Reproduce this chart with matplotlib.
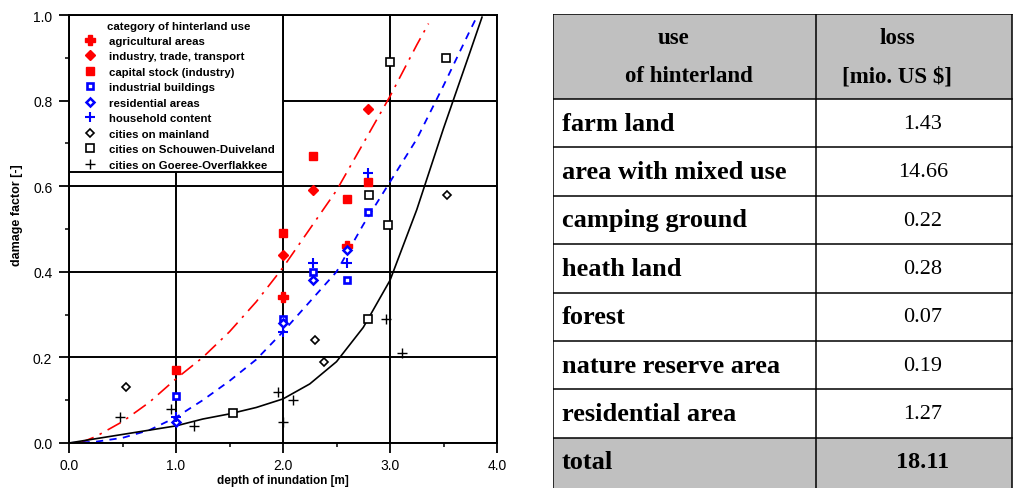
import numpy as np
import matplotlib.pyplot as plt
from matplotlib.patches import Rectangle

plt.rcParams['font.family'] = 'Liberation Sans'

# measured damage factors, per category of hinterland use
agri_x = [2.0, 2.6]
agri_y = [0.34, 0.46]
indus_x = [2.0, 2.28, 2.79]
indus_y = [0.44, 0.59, 0.78]
capital_x = [1.0, 2.0, 2.28, 2.6, 2.79]
capital_y = [0.17, 0.49, 0.67, 0.57, 0.61]
indbuild_x = [1.0, 2.0, 2.28, 2.6, 2.79]
indbuild_y = [0.11, 0.29, 0.40, 0.38, 0.54]
resid_x = [1.0, 2.0, 2.28, 2.6]
resid_y = [0.05, 0.28, 0.38, 0.45]
house_x = [1.0, 2.0, 2.28, 2.6, 2.79]
house_y = [0.06, 0.26, 0.42, 0.42, 0.63]
mainland_x = [0.53, 2.3, 2.38, 3.53]
mainland_y = [0.13, 0.24, 0.19, 0.58]
schouwen_x = [1.53, 2.79, 2.8, 2.98, 3.0, 3.52]
schouwen_y = [0.07, 0.29, 0.58, 0.51, 0.89, 0.90]
goeree_x = [0.48, 0.95, 1.17, 1.95, 2.0, 2.09, 2.96, 3.11]
goeree_y = [0.06, 0.08, 0.04, 0.12, 0.05, 0.10, 0.29, 0.21]

# damage curves
red_x = [0.1, 0.25, 0.5, 0.75, 1.0, 1.25, 1.5, 1.75, 2.0, 2.25, 2.5, 2.75, 3.0, 3.25, 3.36]
red_y = [0.0, 0.015, 0.05, 0.095, 0.15, 0.2, 0.26, 0.33, 0.41, 0.5, 0.59, 0.7, 0.81, 0.93, 0.98]
blue_x = [0.0, 0.25, 0.5, 0.75, 1.0, 1.25, 1.5, 1.75, 2.0, 2.25, 2.5, 2.75, 3.0, 3.25, 3.5, 3.75, 3.81]
blue_y = [0.0, 0.003, 0.012, 0.03, 0.06, 0.1, 0.145, 0.195, 0.26, 0.33, 0.40, 0.51, 0.61, 0.71, 0.835, 0.965, 0.995]
black_x = [0.0, 0.5, 1.0, 1.25, 1.5, 1.75, 2.0, 2.25, 2.5, 2.75, 3.0, 3.25, 3.5, 3.75, 3.86]
black_y = [0.0, 0.02, 0.04, 0.056, 0.068, 0.083, 0.103, 0.138, 0.19, 0.27, 0.38, 0.545, 0.735, 0.915, 0.995]

# loss table
uses = ["farm land", "area with mixed use", "camping ground", "heath land",
        "forest", "nature reserve area", "residential area"]
losses = ["1.43", "14.66", "0.22", "0.28", "0.07", "0.19", "1.27"]
total = "18.11"

fig = plt.figure(figsize=(10.13, 4.89), dpi=100)
ax = fig.add_axes([69/1013, 45/489, 428/1013, 428/489])

ax.plot(red_x, red_y, color='red', lw=1.2, dashes=(9, 4, 1.5, 4), zorder=2)
ax.plot(blue_x, blue_y, color='blue', lw=1.3, dashes=(4, 3.5), zorder=2)
ax.plot(black_x, black_y, color='black', lw=1.2, zorder=2)

ax.plot(agri_x, agri_y, ls='none', marker='P', ms=6.5, color='red', mec='red', label='agricultural areas')
ax.plot(indus_x, indus_y, ls='none', marker='D', ms=5.2, color='red', mec='red', label='industry, trade, transport')
ax.plot(capital_x, capital_y, ls='none', marker='s', ms=6, color='red', mec='red', label='capital stock (industry)')
ax.plot(indbuild_x, indbuild_y, ls='none', marker='s', ms=4.2, mfc='white', mec='blue', mew=1.9,
        label='industrial buildings')
ax.plot(resid_x, resid_y, ls='none', marker='D', ms=3.8, mfc='white', mec='blue', mew=1.8,
        label='residential areas')
ax.plot(house_x, house_y, ls='none', marker='+', ms=7, mec='blue', mew=1.5, label='household content')
ax.plot(mainland_x, mainland_y, ls='none', marker='D', ms=4.3, mfc='white', mec='black', mew=1.2,
        label='cities on mainland')
ax.plot(schouwen_x, schouwen_y, ls='none', marker='s', ms=5.6, mfc='white', mec='black', mew=1.2,
        label='cities on Schouwen-Duiveland')
ax.plot(goeree_x, goeree_y, ls='none', marker='+', ms=7, mec='black', mew=1.0,
        label='cities on Goeree-Overflakkee')

ax.set_xlim(0, 4)
ax.set_ylim(0, 1)
ax.set_xticks([0, 1, 2, 3, 4])
ax.set_xticks(np.arange(0.5, 4, 1.0), minor=True)
ax.set_yticks([0, 0.2, 0.4, 0.6, 0.8, 1.0])
ax.set_yticks(np.arange(0.1, 1.0, 0.2), minor=True)
ax.xaxis.set_major_formatter(plt.FormatStrFormatter('%.1f'))
ax.yaxis.set_major_formatter(plt.FormatStrFormatter('%.1f'))
ax.tick_params(which='major', direction='out', length=7, width=1.3, labelsize=10, pad=5)
ax.tick_params(axis='x', which='major', pad=4)
ax.tick_params(which='minor', direction='out', length=3, width=1.1)
ax.grid(True, which='major', color='black', lw=1.4)
for s in ax.spines.values():
    s.set_linewidth(1.4)

ax.set_xlabel("depth of inundation [m]", fontsize=8.5, fontweight='bold', va='top')
ax.xaxis.set_label_coords(0.5, (444 - 475.5) / 428)
ax.set_ylabel("damage factor [-]", fontsize=9, fontweight='bold', va='center')
ax.yaxis.set_label_coords((17 - 69) / 428, 0.535)

# white box behind the legend
ax.add_patch(Rectangle((0, 0.633), 2.0, 0.367, facecolor='white', edgecolor='black', lw=1.4, zorder=2.5))
leg = ax.legend(loc='upper left', bbox_to_anchor=(0.0224, 0.9977), frameon=False, fontsize=8.2,
                title="category of hinterland use", handlelength=1.2, handletextpad=1.1,
                labelspacing=0.48, borderpad=0.4, borderaxespad=0.0)
leg.get_title().set_fontweight('bold')
leg.get_title().set_fontsize(8.2)
for t in leg.get_texts():
    t.set_fontweight('bold')
leg.set_zorder(5)

# table of losses
tab = fig.add_axes([553/1013, 0, 460/1013, 474/489])
tab.set_xlim(0, 460)
tab.set_ylim(474, 0)
tab.axis('off')
head_h = 85
row_h = 48.4
col = 263
right = 459
n = len(uses)
total_top = head_h + n * row_h

tab.add_patch(Rectangle((0, 0), right, head_h, facecolor='#c0c0c0', edgecolor='none'))
tab.add_patch(Rectangle((0, total_top), right, row_h + 2, facecolor='#c0c0c0', edgecolor='none'))
for yy in [0, head_h] + [head_h + (i + 1) * row_h for i in range(n)]:
    tab.plot([0, right], [yy, yy], color='black', lw=1.1)
for xx in [0, col, right]:
    tab.plot([xx, xx], [0, 474], color='black', lw=1.1)

serif = 'Liberation Serif'
tab.text(121, 23, "use", family=serif, fontsize=16.5, fontweight='bold', ha='center', va='center')
tab.text(136, 61.5, "of hinterland", family=serif, fontsize=16.5, fontweight='bold', ha='center', va='center')
tab.text(344, 23, "loss", family=serif, fontsize=16.5, fontweight='bold', ha='center', va='center')
tab.text(344, 61.5, r"[mio. US \$]", family=serif, fontsize=16.5, fontweight='bold', ha='center', va='center')
for i, (u, v) in enumerate(zip(uses, losses)):
    yc = head_h + (i + 0.5) * row_h
    tab.text(9, yc, u, family=serif, fontsize=19, fontweight='bold', ha='left', va='center')
    tab.text(370, yc, v, family=serif, fontsize=16, ha='center', va='center')
yc = total_top + 0.5 * row_h
tab.text(9, yc, "total", family=serif, fontsize=19, fontweight='bold', ha='left', va='center')
tab.text(370, yc, total, family=serif, fontsize=17.5, fontweight='bold', ha='center', va='center')

fig.savefig("out.png", dpi=100)
